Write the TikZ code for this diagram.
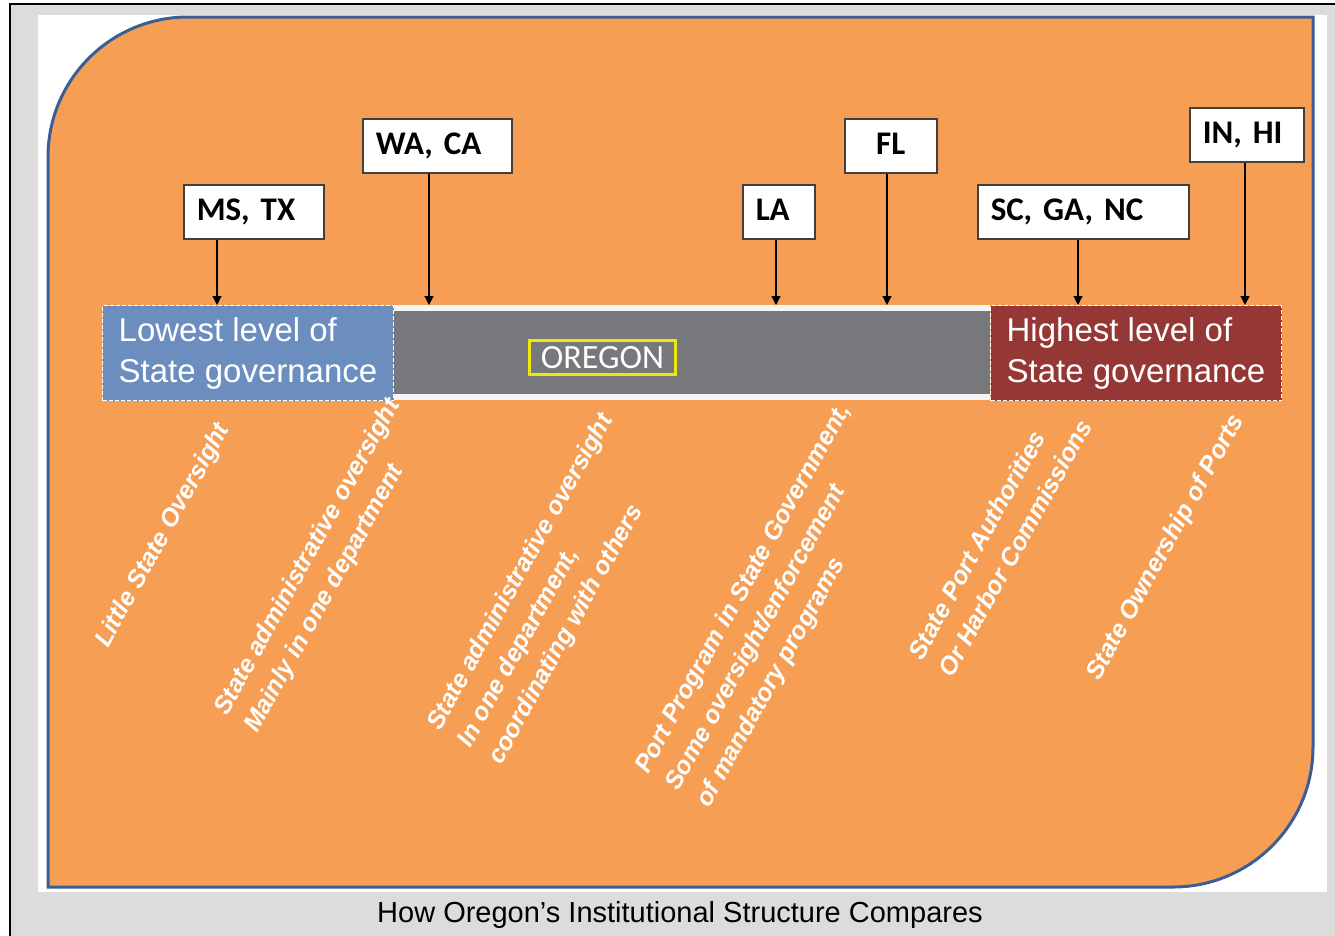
\documentclass[tikz,border=0pt]{standalone}
\usepackage{fontspec}
\setmainfont{Liberation Sans}
\newfontfamily\calfont{Carlito}
\usetikzlibrary{arrows.meta}
\frenchspacing
\definecolor{framegray}{RGB}{220,220,220}
\definecolor{panel}{RGB}{245,158,84}
\definecolor{panelrim}{RGB}{58,95,149}
\definecolor{lowblue}{RGB}{108,142,191}
\definecolor{highred}{RGB}{149,55,53}
\definecolor{bargray}{RGB}{119,120,123}
\definecolor{oreyellow}{RGB}{236,232,10}
\tikzset{>/.tip={Triangle[width=9pt,length=9pt]},
  statebox/.style={draw=black!75, line width=1.5pt, fill=white, anchor=north west,
    minimum height=54pt, inner xsep=13pt, inner ysep=0pt, align=left,
    text height=22pt, text depth=5pt, font=\calfont\bfseries\fontsize{33}{36}\selectfont},
  endbox/.style={draw=white, dash pattern=on 4pt off 2pt, line width=1pt, anchor=north west,
    minimum width=291pt, minimum height=95pt, inner sep=0pt, align=left, text=white,
    font=\fontsize{33}{41}\selectfont},
  barrim/.style={draw=white!92!gray, line width=6pt},
  note/.style={text=white, rotate=61, anchor=north west, align=left, inner sep=0pt,
    font=\bfseries\itshape\fontsize{25}{35}\selectfont}}

\begin{document}
\begin{tikzpicture}[x=1pt,y=-1pt]
\useasboundingbox (0,0) rectangle (1335,935);
\fill[white] (0,0) rectangle (1335,935);
% frame and panel
\draw[fill=framegray, line width=1.5pt] (10,4) rectangle (1350,950);
\fill[white] (38,15) rectangle (1327,892);
\draw[panelrim, line width=3pt, fill=panel] (48,887) -- (48,157)
  arc[start angle=180, end angle=270, radius=140] -- (1313,17) -- (1313,747)
  arc[start angle=0, end angle=90, radius=140] -- cycle;

% the scale bar
\node (mid) [fill=bargray, anchor=north west, minimum width=597pt, minimum height=95pt, inner sep=0pt] at (393,305) {};
\draw[barrim] ([yshift=-3pt]mid.north west) -- ([yshift=-3pt]mid.north east);
\draw[barrim] ([yshift=3pt]mid.south west) -- ([yshift=3pt]mid.south east);
\node (low) [endbox, fill=lowblue] at (102,305) {Lowest level of\\State governance};
\node (high) [endbox, fill=highred] at (990,305) {Highest level of\\State governance};
\node (oregon) [draw=oreyellow, line width=3pt, minimum width=146pt, minimum height=34pt, inner sep=0pt,
  text=white, font=\calfont\fontsize{34}{34}\selectfont] at (602.5,357.5) {OREGON};

% states
\node (mstx) [statebox, text width=114pt] at (183,184) {MS, TX};
\node (waca) [statebox, text width=123pt] at (362,118) {WA, CA};
\node (la) [statebox, text width=46pt] at (742,184) {LA};
\node (fl) [statebox, text width=66pt, align=center] at (844,118) {FL};
\node (scganc) [statebox, text width=185pt] at (977,184) {SC, GA, NC};
\node (inhi) [statebox, text width=88pt] at (1189,107) {IN, HI};
\foreach \s/\x in {mstx/217, waca/429, la/776, fl/887, scganc/1078, inhi/1245}
{
  \coordinate (p\s) at (\x,305);
  \draw[->, line width=1.2pt] (\s.south -| p\s) -- (p\s);
}

% kinds of oversight
\node (n1) [note] at (92,640) {Little State Oversight};
\node (n2) [note] at (211,708) {State administrative oversight\\Mainly in one department};
\node (n3) [note] at (424,723) {State administrative oversight\\In one department,\\coordinating with others};
\node (n4) [note] at (632,766) {Port Program in State Government,\\Some oversight/enforcement\\of mandatory programs};
\node (n5) [note] at (906,653) {State Port Authorities\\Or Harbor Commissions};
\node (n6) [note] at (1083,673) {State Ownership of Ports};

\node (title) [anchor=base, font=\fontsize{29}{29}\selectfont] at (680,922) {How Oregon’s Institutional Structure Compares};
\end{tikzpicture}
\end{document}
